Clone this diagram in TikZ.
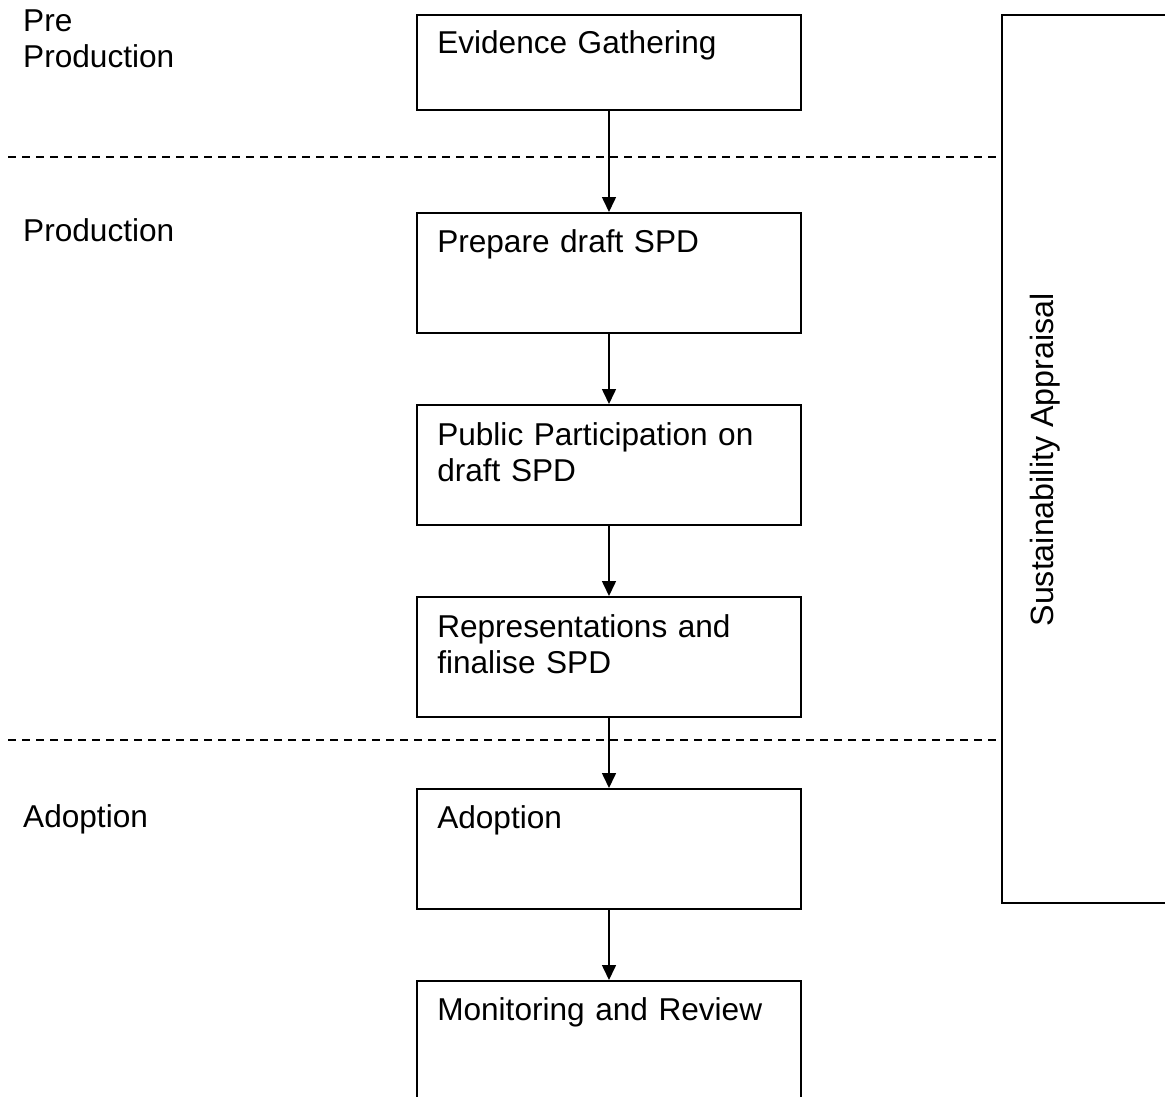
\documentclass[tikz,border=0pt]{standalone}
\usepackage{fontspec}
\setmainfont{Liberation Sans}
\usetikzlibrary{positioning, arrows.meta}

\tikzset{
  stepbox/.style={draw, line width=1.9pt, minimum width=384pt, minimum height=120pt, inner sep=0pt, anchor=north},
  boxtext/.style={anchor=base west, inner sep=0pt, text width=360pt, align=left, font=\fontsize{31.6}{36}\selectfont},
  flow/.style={line width=1.6pt, -{Triangle[length=15pt, width=14pt]}},
  phaseline/.style={line width=1.4pt, dash pattern=on 8pt off 6pt}
}

\begin{document}
\begin{tikzpicture}[x=1pt, y=-1pt]
    \useasboundingbox (0,0) rectangle (1165,1097);

    % Phase labels on the left
    \node[boxtext] (prelbl) at (23,32) {Pre\\Production};
    \node[boxtext] (prodlbl) at (23,241) {Production};
    \node[boxtext] (adoptlbl) at (23,827) {Adoption};

    % Phase separators
    \draw[phaseline] (8,157) -- (1000,157);
    \draw[phaseline] (8,740) -- (1000,740);

    % Process steps
    \node[stepbox, minimum height=95pt] (ev) at (609,14) {};
    \node[stepbox] (prep) at (609,212) {};
    \node[stepbox] (pub) at (609,404) {};
    \node[stepbox] (rep) at (609,596) {};
    \node[stepbox] (adopt) at (609,788) {};
    \node[stepbox] (mon) at (609,980) {};

    % Step texts
    \node[boxtext] at ([xshift=21pt, yshift=-40pt]ev.north west) {Evidence Gathering};
    \node[boxtext] at ([xshift=21pt, yshift=-40pt]prep.north west) {Prepare draft SPD};
    \node[boxtext] at ([xshift=21pt, yshift=-41pt]pub.north west) {Public Participation on\\draft SPD};
    \node[boxtext] at ([xshift=21pt, yshift=-41pt]rep.north west) {Representations and\\finalise SPD};
    \node[boxtext] at ([xshift=21pt, yshift=-40pt]adopt.north west) {Adoption};
    \node[boxtext] at ([xshift=21pt, yshift=-40pt]mon.north west) {Monitoring and Review};

    % Arrows between steps
    \foreach \a/\b in {ev/prep, prep/pub, pub/rep, rep/adopt, adopt/mon} {
      \draw[flow] (\a.south) -- (\b.north);
    }

    % Sustainability appraisal bar
    \node[draw, line width=1.9pt, anchor=north west, minimum width=200pt, minimum height=888pt, inner sep=0pt] (sa) at (1001,14) {};
    \node[rotate=90, anchor=base, inner sep=0pt, font=\fontsize{32.2}{36}\selectfont] (satext) at (1053,460) {Sustainability Appraisal};

\end{tikzpicture}
\end{document}
